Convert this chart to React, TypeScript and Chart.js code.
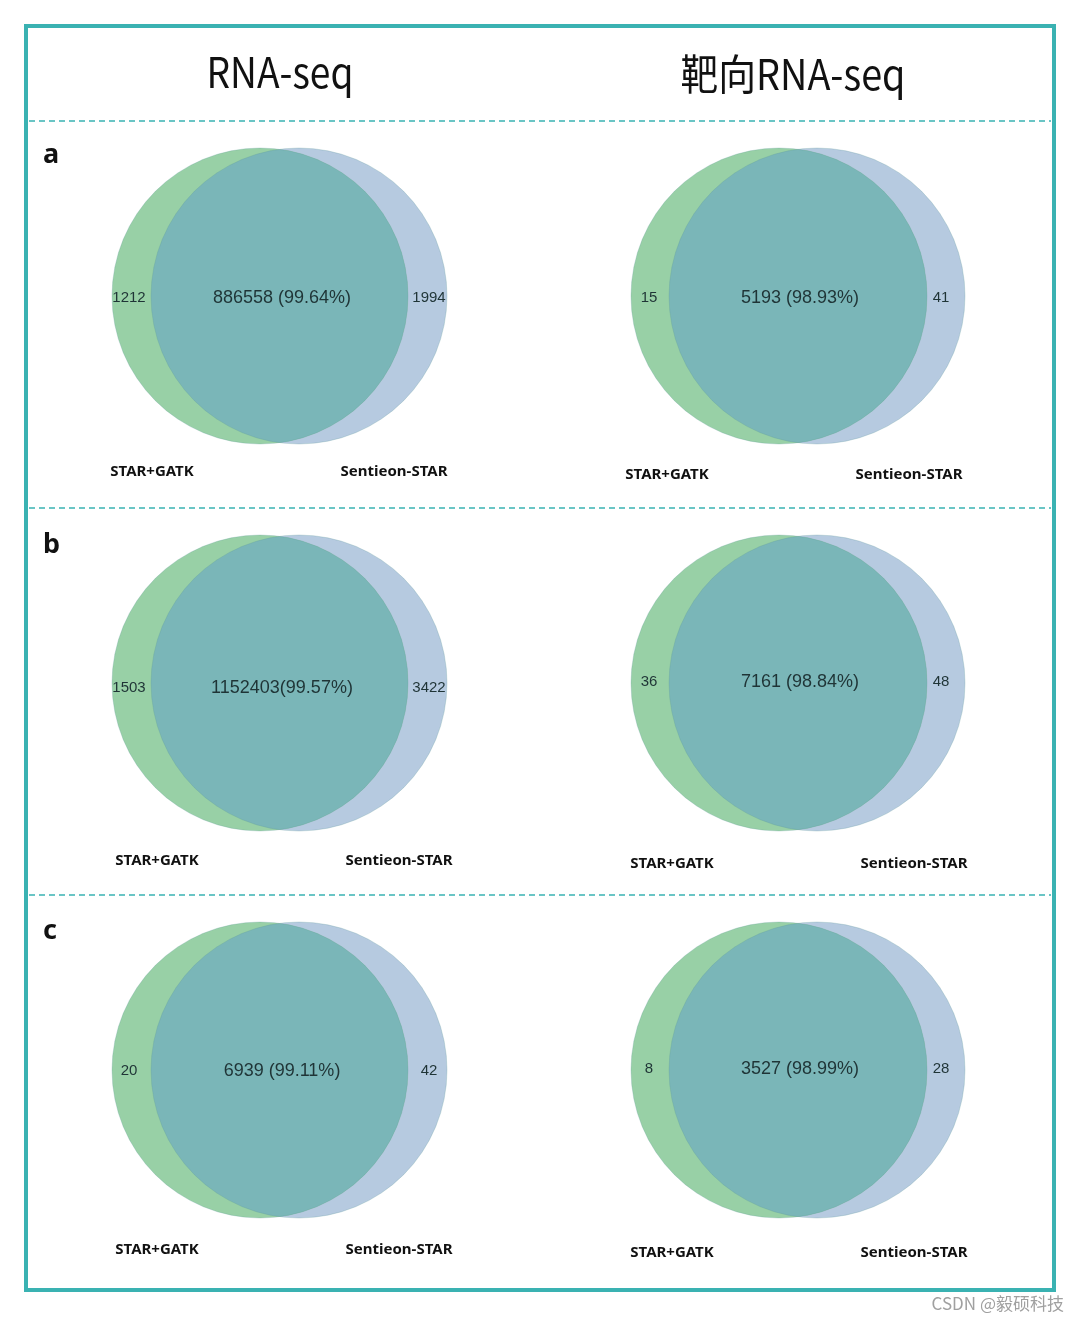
import React, { useEffect, useRef } from 'react';
import { Chart, registerables } from 'chart.js';

Chart.register(...registerables);

// ---------- data ----------
const columnTitles = ['RNA-seq', '靶向RNA-seq'];
const rowLetters = ['a', 'b', 'c'];
const leftSetName = 'STAR+GATK';
const rightSetName = 'Sentieon-STAR';
// panel order: a-left, a-right, b-left, b-right, c-left, c-right
const onlyLeft = [1212, 15, 1503, 36, 20, 8];
const sharedCount = [886558, 5193, 1152403, 7161, 6939, 3527];
const sharedPct = ['99.64%', '98.93%', '99.57%', '98.84%', '99.11%', '98.99%'];
const sharedGap = [' ', ' ', '', ' ', ' ', ' '];
const onlyRight = [1994, 41, 3422, 48, 42, 28];
const watermark = 'CSDN @毅硕科技';

// ---------- layout ----------
const W = 1080;
const H = 1322;
const RADIUS = 148;
const rowCY = [296, 683, 1070];
const colGreenCX = [260, 779];
const colBlueCX = [299, 817];
const colLeftNumX = [129, 649];
const colMidX = [282, 800];
const colRightNumX = [429, 941];
const labelY = [[472, 475], [861, 864], [1250, 1253]];
const labelLeftX = [[152, 667], [157, 672], [157, 672]];
const labelRightX = [[394, 909], [399, 914], [399, 914]];
const numDy = [[2, 2], [5, -1], [1, -1]];
const dashY = [121, 508, 895];
const letterY = [155, 545, 931];

const GREEN = 'rgb(152,208,166)';
const BLUE = 'rgb(182,202,224)';
const OVERLAP = 'rgb(122,182,184)';
const TEAL = 'rgb(58,178,178)';

const panels = [0, 1, 2, 3, 4, 5].map((i) => ({ row: Math.floor(i / 2), col: i % 2 }));

export default function App() {
  const ref = useRef<HTMLCanvasElement | null>(null);

  useEffect(() => {
    if (!ref.current) return;

    const decor = {
      id: 'decor',
      beforeDraw(chart: any) {
        const ctx = chart.ctx;
        ctx.save();
        ctx.fillStyle = '#ffffff';
        ctx.fillRect(0, 0, chart.width, chart.height);
        ctx.restore();
      },
      afterDatasetsDraw(chart: any) {
        const ctx = chart.ctx;
        const g = chart.getDatasetMeta(0).data;
        const b = chart.getDatasetMeta(1).data;
        for (let i = 0; i < g.length; i++) {
          const ge = g[i];
          const be = b[i];
          const gr = ge.options.radius;
          const br = be.options.radius;
          ctx.save();
          ctx.beginPath();
          ctx.arc(be.x, be.y, br, 0, Math.PI * 2);
          ctx.clip();
          ctx.beginPath();
          ctx.arc(ge.x, ge.y, gr, 0, Math.PI * 2);
          ctx.fillStyle = OVERLAP;
          ctx.fill();
          ctx.restore();
          ctx.save();
          ctx.lineWidth = 1;
          ctx.strokeStyle = 'rgba(90,150,150,0.25)';
          ctx.beginPath();
          ctx.arc(ge.x, ge.y, gr, 0, Math.PI * 2);
          ctx.stroke();
          ctx.beginPath();
          ctx.arc(be.x, be.y, br, 0, Math.PI * 2);
          ctx.stroke();
          ctx.restore();
        }
      },
      afterDraw(chart: any) {
        const ctx = chart.ctx;
        const xs = chart.scales.x;
        const ys = chart.scales.y;
        const px = (v: number) => xs.getPixelForValue(v);
        const py = (v: number) => ys.getPixelForValue(v);
        ctx.save();

        // outer frame
        ctx.strokeStyle = TEAL;
        ctx.lineWidth = 4;
        ctx.strokeRect(px(26), py(26), px(1054) - px(26), py(1290) - py(26));

        // dashed separators
        ctx.lineWidth = 1.5;
        ctx.setLineDash([6, 4]);
        dashY.forEach((y) => {
          ctx.beginPath();
          ctx.moveTo(px(29), py(y));
          ctx.lineTo(px(1051), py(y));
          ctx.stroke();
        });
        ctx.setLineDash([]);

        // column titles
        ctx.fillStyle = '#111';
        ctx.textAlign = 'center';
        ctx.textBaseline = 'alphabetic';
        const titleX = [280, 793];
        const titleW = [147, 225];
        const titleBase = [88, 90];
        columnTitles.forEach((t, c) => {
          ctx.save();
          ctx.font = '42px "Noto Sans CJK SC", "Noto Sans", sans-serif';
          const w = ctx.measureText(t).width;
          const s = titleW[c] / w;
          ctx.translate(px(titleX[c]), py(titleBase[c]));
          ctx.scale(s, 1);
          ctx.fillText(t, 0, 0);
          ctx.restore();
        });

        // row letters
        ctx.font = 'bold 27px "Noto Sans", "DejaVu Sans", sans-serif';
        ctx.textAlign = 'left';
        ctx.textBaseline = 'middle';
        rowLetters.forEach((l, r) => {
          ctx.fillText(l, px(43), py(letterY[r]));
        });

        // venn labels
        panels.forEach((p, i) => {
          const { row, col } = p;
          const cy = rowCY[row] + numDy[row][col];
          ctx.textAlign = 'center';
          ctx.textBaseline = 'middle';
          ctx.fillStyle = '#1f3436';
          ctx.font = '15px "Liberation Sans", Arial, sans-serif';
          ctx.fillText(String(onlyLeft[i]), px(colLeftNumX[col]), py(cy));
          ctx.fillText(String(onlyRight[i]), px(colRightNumX[col]), py(cy));
          ctx.font = '18px "Liberation Sans", Arial, sans-serif';
          ctx.fillText(
            `${sharedCount[i]}${sharedGap[i]}(${sharedPct[i]})`,
            px(colMidX[col]),
            py(cy)
          );
          ctx.fillStyle = '#111';
          ctx.font = 'bold 15px "Noto Sans", "Open Sans", sans-serif';
          ctx.fillText(leftSetName, px(labelLeftX[row][col]), py(labelY[row][col]));
          ctx.fillText(rightSetName, px(labelRightX[row][col]), py(labelY[row][col]));
        });

        // watermark
        ctx.fillStyle = '#a0a0a0';
        ctx.textAlign = 'right';
        ctx.textBaseline = 'middle';
        ctx.font = '17px "Noto Sans CJK SC", sans-serif';
        ctx.fillText(watermark, px(1064), py(1304));

        ctx.restore();
      },
    };

    const greenData = panels.map((p) => ({ x: colGreenCX[p.col], y: rowCY[p.row], r: RADIUS }));
    const blueData = panels.map((p) => ({ x: colBlueCX[p.col], y: rowCY[p.row], r: RADIUS }));

    const chart = new Chart(ref.current, {
      type: 'bubble',
      data: {
        datasets: [
          { label: leftSetName, data: greenData, backgroundColor: GREEN, borderWidth: 0 },
          { label: rightSetName, data: blueData, backgroundColor: BLUE, borderWidth: 0 },
        ],
      },
      options: {
        responsive: true,
        maintainAspectRatio: false,
        animation: false,
        events: [],
        layout: { padding: 0, autoPadding: false },
        clip: false,
        plugins: { legend: { display: false }, tooltip: { enabled: false } },
        scales: {
          x: { type: 'linear', min: 0, max: W, display: false },
          y: { type: 'linear', min: 0, max: H, reverse: true, display: false },
        },
      } as any,
      plugins: [decor],
    });
    return () => chart.destroy();
  }, []);

  return (
    <div style={{ position: 'absolute', left: 0, top: 0, width: W, height: H, background: '#fff' }}>
      <canvas ref={ref} />
    </div>
  );
}
